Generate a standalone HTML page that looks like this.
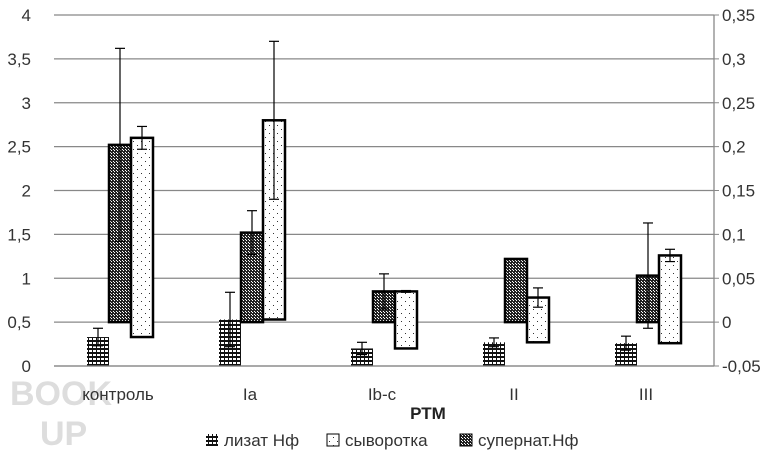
<!DOCTYPE html>
<html><head><meta charset="utf-8"><style>
body{margin:0;background:#fff;width:777px;height:465px;overflow:hidden;font-family:"Liberation Sans",sans-serif}
svg text{font-family:"Liberation Sans","DejaVu Sans",sans-serif}
</style></head><body>
<svg id="chart" width="777" height="465" xmlns="http://www.w3.org/2000/svg">
<defs>
<pattern id="pLyz" width="4" height="4" patternUnits="userSpaceOnUse"><rect width="4" height="4" fill="#fff"/><rect width="4" height="2" fill="#111"/><rect x="0" y="2" width="1" height="2" fill="#111"/></pattern>
<pattern id="pSup" width="3" height="3" patternUnits="userSpaceOnUse"><rect width="3" height="3" fill="#222"/><rect width="1" height="1" fill="#fff"/><rect x="2" y="2" width="1" height="1" fill="#fff"/></pattern>
<pattern id="pSyv" width="8" height="8" patternUnits="userSpaceOnUse"><rect width="8" height="8" fill="#fff"/><rect x="1" y="1" width="1" height="1" fill="#333"/><rect x="5" y="5" width="1" height="1" fill="#333"/></pattern>
</defs>
<text x="10" y="405" font-size="34" font-weight="bold" fill="#ddd">BOOK</text>
<text x="40" y="445" font-size="34" font-weight="bold" fill="#ddd">UP</text>
<g id="grid"></g><g id="bars"></g><g id="axes"></g>
</svg>
<script>
const categories=["контроль","Ia","Ib-c","II","III"];
const leftTicks=["0","0,5","1","1,5","2","2,5","3","3,5","4"];
const rightTicks=["-0,05","0","0,05","0,1","0,15","0,2","0,25","0,3","0,35"];
const lysate=[0.33,0.53,0.2,0.27,0.26];
const lysateErr=[0.1,0.31,0.07,0.05,0.08];
const supernat=[0.202,0.102,0.035,0.072,0.053];
const supernatErr=[0.11,0.025,0.02,0,0.06];
const serumTop=[2.6,2.8,0.85,0.78,1.26];
const serumErr=[0.13,0.9,0.01,0.11,0.07];
const NS="http://www.w3.org/2000/svg";
const x0=54,x1=714,yB=366,yT=15;
const yL=v=>yB-(v/4)*(yB-yT);
const yR=v=>yB-((v+0.05)/0.4)*(yB-yT);
const cw=(x1-x0)/categories.length,bw=22;
function mk(t,a,p){const e=document.createElementNS(NS,t);for(const k in a)e.setAttribute(k,a[k]);p.appendChild(e);return e;}
const grid=document.getElementById('grid'),bars=document.getElementById('bars'),axes=document.getElementById('axes');
leftTicks.forEach((t,i)=>{const y=yL(i*0.5);
 const l=mk('line',{x1:x0,x2:x1,y1:y,y2:y,stroke:'#888','stroke-width':1.3},grid);
 
 
 const tx=mk('text',{x:31,y:y+6,'text-anchor':'end','font-size':17,fill:'#333'},axes);tx.textContent=t;
 
 
});
rightTicks.forEach((t,i)=>{const v=-0.05+i*0.05;const y=yR(v);
 mk('line',{x1:x1,x2:x1+5,y1:y,y2:y,stroke:'#888'},axes);
 const tx=mk('text',{x:722,y:y+6,'font-size':17,fill:'#333'},axes);tx.textContent=t;
 
 
});
mk('line',{x1:x1,x2:x1,y1:yT,y2:yB,stroke:'#888','stroke-width':1.3},axes);
function err(cx,yc,yh,ylo){
 mk('line',{x1:cx,x2:cx,y1:yh,y2:ylo,stroke:'#000','stroke-width':1.2},bars);
 mk('line',{x1:cx-5,x2:cx+5,y1:yh,y2:yh,stroke:'#000','stroke-width':1.2},bars);
 mk('line',{x1:cx-5,x2:cx+5,y1:ylo,y2:ylo,stroke:'#000','stroke-width':1.2},bars);
}
categories.forEach((c,i)=>{
 const gx=x0+i*cw+cw/2-33;
 let r=mk('rect',{x:gx,y:yL(lysate[i]),width:bw,height:yB-yL(lysate[i]),fill:'url(#pLyz)'},bars);
 
 
 err(gx+bw/2,0,yL(lysate[i]+lysateErr[i]),yL(lysate[i]-lysateErr[i]));
 const s0=yR(0),s1=yR(supernat[i]);
 r=mk('rect',{x:gx+bw,y:s1,width:bw,height:s0-s1,fill:'url(#pSup)',stroke:'#000','stroke-width':2.5},bars);
 
 
 if(supernatErr[i]>0)err(gx+bw*1.5,0,yR(supernat[i]+supernatErr[i]),yR(supernat[i]-supernatErr[i]));
 const b=yL(lysate[i]),t=yL(serumTop[i]);
 r=mk('rect',{x:gx+2*bw,y:t,width:bw,height:b-t,fill:'url(#pSyv)',stroke:'#000','stroke-width':2.5},bars);
 
 
 err(gx+bw*2.5,0,yL(serumTop[i]+serumErr[i]),yL(serumTop[i]-serumErr[i]));
 const tx=mk('text',{x:x0+i*cw+cw/2-2,y:400,'text-anchor':'middle','font-size':17,fill:'#333'},axes);tx.textContent=c;
 
 
});
mk('line',{x1:x0,x2:x1,y1:yB,y2:yB,stroke:'#888','stroke-width':1.3},axes);
const at=mk('text',{x:428,y:419,'text-anchor':'middle','font-size':17,'font-weight':'bold',fill:'#222'},axes);at.textContent='РТМ';


const leg=[["url(#pLyz)","лизат Нф",206,false],["url(#pSyv)","сыворотка",327,true],["url(#pSup)","супернат.Нф",460,true]];
leg.forEach(l=>{
 const g=mk('g',{},axes);
 
 
 mk('rect',{x:l[2],y:434,width:12,height:12,fill:l[0],stroke:l[3]?'#000':'none','stroke-width':1},g);
 const tx=mk('text',{x:l[2]+18,y:446,'font-size':17,fill:'#333'},g);tx.textContent=l[1];
});
</script>
</body></html>
